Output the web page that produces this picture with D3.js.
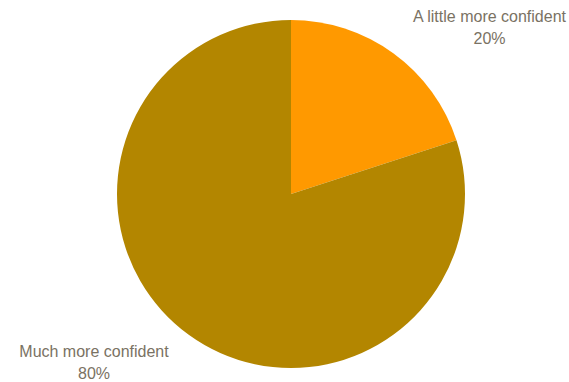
<!DOCTYPE html>
<html><head><meta charset="utf-8">
<script src="https://cdn.jsdelivr.net/npm/d3@7"></script>
<style>body{margin:0;background:#fff}svg{display:block}</style>
</head><body>
<svg id="c" width="569" height="382"></svg>
<script>
const categories = ["A little more confident", "Much more confident"];
const values = [20, 80];
const labels = ["20%", "80%"];
const colors = ["#FF9900", "#B38600"];

const svg = d3.select("#c");
const cx = 291, cy = 194, r = 174;
const g = svg.append("g").attr("transform", `translate(${cx},${cy})`);
const pie = d3.pie().sort(null)(values);
const arc = d3.arc().innerRadius(0).outerRadius(r);
g.selectAll("path").data(pie).enter().append("path")
  .attr("d", arc).attr("fill", (d, i) => colors[i]);

const labelPos = [[489.5, 22], [94, 357]];
categories.forEach((c, i) => {
  const t = svg.append("text")
    .attr("x", labelPos[i][0]).attr("y", labelPos[i][1])
    .attr("text-anchor", "middle")
    .attr("font-family", "Liberation Sans, Arial, sans-serif")
    .attr("font-size", 16).attr("fill", "#7a7263");
  t.append("tspan").attr("x", labelPos[i][0]).text(c);
  t.append("tspan").attr("x", labelPos[i][0]).attr("dy", 21.5).text(labels[i]);
});
</script>
</body></html>
